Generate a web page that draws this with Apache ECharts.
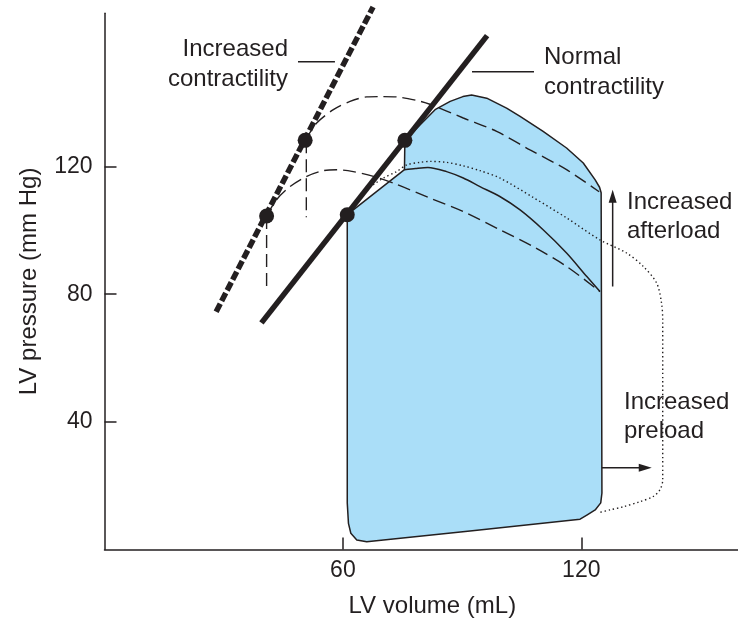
<!DOCTYPE html>
<html>
<head>
<meta charset="utf-8">
<title>LV pressure-volume loops</title>
<script src="https://cdn.jsdelivr.net/npm/echarts@6/dist/echarts.min.js"></script>
<style>
  html, body { margin: 0; padding: 0; background: #fff; }
  #chart { width: 738px; height: 620px; }
</style>
</head>
<body>
<div id="chart"></div>
<script>
// ticks
var xTicks = [60, 120];
var yTicks = [40, 80, 120];

// end-systolic points (volume mL, pressure mmHg)
var espNormal = [[61.1, 104.9], [75.6, 128.2]];
var espContract = [[40.8, 104.5], [50.5, 128.2]];

// end-systolic pressure-volume lines
var espvrNormal = [[39.5, 71], [96.3, 161]];
var espvrContract = [[28.1, 74.5], [67.6, 170]];

// outline of the shaded loop (normal + increased afterload)
var loopOutline = [
  [61.1, 104.9], [75.5, 119.0], [75.6, 128.2], [83.2, 137.8], [87.0, 140.4],
  [90.2, 141.9], [92.4, 142.4], [96.2, 141.4], [101.2, 138.3], [104.6, 135.7],
  [110.4, 131.0], [116.3, 125.8], [120.5, 121.1], [123.5, 115.8], [124.6, 113.5],
  [125.0, 111.8], [125.2, 17.7], [124.9, 14.6], [123.5, 12.4], [121.4, 10.8],
  [119.7, 9.5], [92.0, 5.8], [66.0, 2.4], [63.5, 3.0], [62.0, 5.1],
  [61.4, 8.2], [61.1, 14.6]
];

// normal ejection curve
var ejectNormal = [
  [124.7, 80.8], [121.4, 85.5], [116.3, 92.9], [110.4, 100.2], [104.6, 106.4],
  [99.5, 110.6], [94.5, 113.7], [90.3, 116.4], [86.1, 118.4], [81.4, 119.7],
  [78.3, 119.4], [75.5, 119.0]
];

// increased preload loop (dotted)
var preloadLoop = [
  [65.9, 112.7], [67.7, 114.3], [70.2, 116.4], [73.5, 118.4], [76.1, 120.5],
  [79.4, 121.3], [81.9, 121.6], [86.1, 121.3], [90.3, 120.2], [94.5, 118.7],
  [99.5, 116.4], [107.9, 110.3], [116.3, 103.9], [124.7, 97.0], [131.4, 92.9],
  [135.6, 88.7], [139.0, 83.4], [140.2, 77.2], [140.5, 71.9], [140.5, 21.8],
  [139.8, 18.7], [138.1, 16.6], [134.8, 15.0], [130.6, 13.4], [127.2, 12.4],
  [124.3, 11.5]
];

// increased contractility ejection curves (dashed)
var contractHigh = [
  [50.5, 128.2], [53.4, 133.6], [57.6, 137.8], [61.8, 140.4], [66.0, 141.8],
  [69.3, 141.9], [73.5, 141.8], [78.6, 140.7], [81.9, 139.5], [90.3, 135.2],
  [98.7, 131.0], [107.1, 125.2], [116.3, 119.0], [124.5, 112.1]
];
var contractLow = [
  [40.8, 104.5], [43.3, 109.6], [46.7, 113.7], [50.9, 116.9], [55.1, 118.7],
  [58.4, 119.0], [62.6, 118.4], [67.7, 116.9], [73.5, 114.4], [81.9, 110.1],
  [90.3, 105.9], [99.5, 100.2], [107.9, 94.9], [116.3, 88.7], [124.7, 80.8]
];
var dropHigh = [[50.8, 128.2], [50.8, 104.1]];
var dropLow = [[40.8, 104.5], [40.8, 82.2]];

// arrows and label leaders
var afterloadArrow = [[127.9, 82.4], [127.9, 110.7]];
var preloadArrow = [[125.2, 25.6], [136.1, 25.6]];
var leaderContract = [[48.7, 152.8], [58.0, 152.8]];
var leaderNormal = [[92.5, 149.7], [108.1, 149.7]];

var ink = '#231f20';
var font = "'Liberation Sans', Arial, Helvetica, sans-serif";

function curve(data, width, type, smooth, z) {
  return {
    type: 'line',
    data: data,
    symbol: 'none',
    smooth: smooth,
    silent: true,
    animation: false,
    z: z || 3,
    lineStyle: { color: ink, width: width, type: type }
  };
}

function arrow(data, rotate) {
  return {
    type: 'line',
    data: data,
    silent: true,
    animation: false,
    z: 4,
    symbol: function (v, p) { return p.dataIndex === 1 ? 'triangle' : 'none'; },
    symbolSize: [8, 13],
    symbolRotate: rotate,
    itemStyle: { color: ink },
    lineStyle: { color: ink, width: 1.5 }
  };
}

var chart = echarts.init(document.getElementById('chart'));

var option = {
  animation: false,
  grid: {
    left: 104.5, top: 13.3, width: 635.7, height: 536.2,
    containLabel: false,
    outerBoundsMode: 'none'
  },
  xAxis: {
    type: 'value',
    min: 0,
    max: 160,
    name: 'LV volume (mL)',
    nameLocation: 'middle',
    nameGap: 45,
    nameTextStyle: { fontSize: 24, color: ink, fontFamily: font, padding: [0, 0, 0, 20] },
    axisLine: { lineStyle: { color: ink, width: 1.5 } },
    axisTick: { show: true, inside: true, length: 12, customValues: xTicks, lineStyle: { color: ink, width: 1.5 } },
    axisLabel: { customValues: xTicks, fontSize: 23, color: ink, fontFamily: font, margin: 10 },
    splitLine: { show: false }
  },
  yAxis: {
    type: 'value',
    min: 0,
    max: 168,
    name: 'LV pressure (mm Hg)',
    nameLocation: 'middle',
    nameGap: 63,
    nameTextStyle: { fontSize: 24, color: ink, fontFamily: font },
    axisLine: { lineStyle: { color: ink, width: 1.5 } },
    axisTick: { show: true, inside: true, length: 12, customValues: yTicks, lineStyle: { color: ink, width: 1.5 } },
    axisLabel: { customValues: yTicks, fontSize: 23, color: ink, fontFamily: font, margin: 12 },
    splitLine: { show: false }
  },
  series: [
    {
      type: 'custom',
      data: [loopOutline[0]],
      silent: true,
      z: 1,
      renderItem: function (params, api) {
        var pts = loopOutline.map(function (p) { return api.coord(p); });
        return {
          type: 'polygon',
          shape: { points: pts },
          style: { fill: '#aadef8', stroke: ink, lineWidth: 1.5, lineJoin: 'round' }
        };
      }
    },
    curve(ejectNormal, 1.5, 'solid', 0.3, 2),
    curve(preloadLoop, 1.4, [1.4, 2.8], 0.3, 2),
    curve(contractHigh, 1.4, [13, 6], 0.3, 2),
    curve(contractLow, 1.4, [13, 6], 0.3, 2),
    curve(dropHigh, 1.4, [13, 6], false, 2),
    curve(dropLow, 1.4, [13, 6], false, 2),
    curve(espvrNormal, 5.5, 'solid', false, 5),
    Object.assign(curve(espvrContract, 5.5, [9, 3], false, 5), { clip: false }),
    curve(leaderContract, 1.5, 'solid', false, 3),
    curve(leaderNormal, 1.5, 'solid', false, 3),
    arrow(afterloadArrow, 0),
    arrow(preloadArrow, -90),
    {
      type: 'scatter',
      data: espNormal.concat(espContract),
      symbolSize: 15,
      silent: true,
      z: 6,
      itemStyle: { color: ink, opacity: 1 }
    }
  ],
  graphic: [
    { type: 'text', x: 288, y: 64, silent: true,
      style: { text: 'Increased\ncontractility', fill: ink, font: '24px ' + font, align: 'right', verticalAlign: 'middle', lineHeight: 30 } },
    { type: 'text', x: 544, y: 72, silent: true,
      style: { text: 'Normal\ncontractility', fill: ink, font: '24px ' + font, align: 'left', verticalAlign: 'middle', lineHeight: 30 } },
    { type: 'text', x: 627, y: 217, silent: true,
      style: { text: 'Increased\nafterload', fill: ink, font: '24px ' + font, align: 'left', verticalAlign: 'middle', lineHeight: 29 } },
    { type: 'text', x: 624, y: 417, silent: true,
      style: { text: 'Increased\npreload', fill: ink, font: '24px ' + font, align: 'left', verticalAlign: 'middle', lineHeight: 29.5 } }
  ]
};

chart.setOption(option);
</script>
</body>
</html>
